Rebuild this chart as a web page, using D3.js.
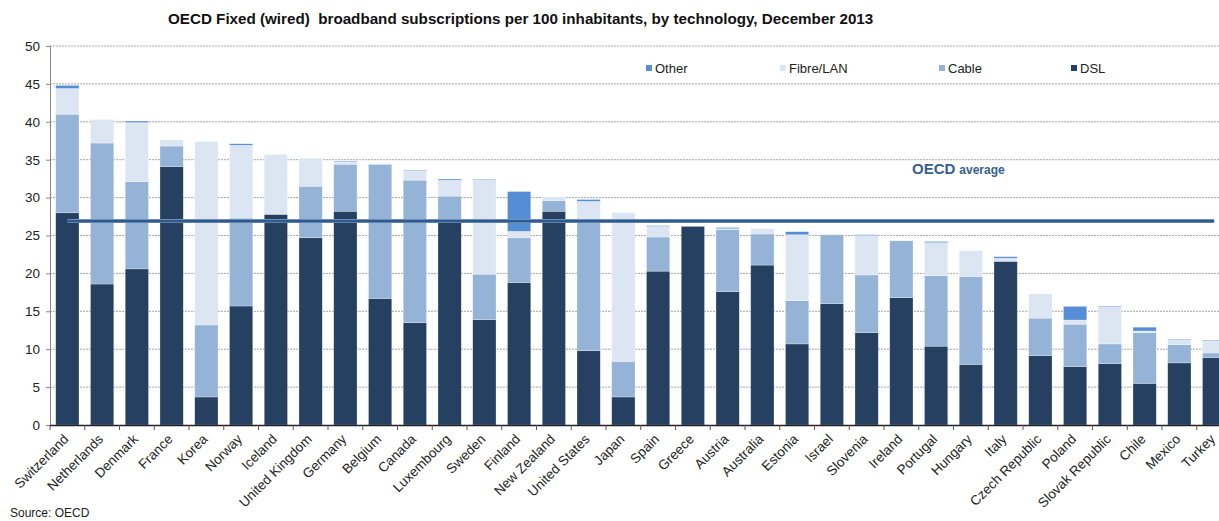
<!DOCTYPE html>
<html><head><meta charset="utf-8">
<script src="https://cdn.jsdelivr.net/npm/d3@7"></script>
<style>
html,body{margin:0;padding:0;background:#fff;overflow:hidden;}
text{font-family:"Liberation Sans",Arial,sans-serif;}
</style></head>
<body><svg id="c" width="1219" height="521"></svg>
<script>
const countries = ["Switzerland","Netherlands","Denmark","France","Korea","Norway","Iceland","United Kingdom","Germany","Belgium","Canada","Luxembourg","Sweden","Finland","New Zealand","United States","Japan","Spain","Greece","Austria","Australia","Estonia","Israel","Slovenia","Ireland","Portugal","Hungary","Italy","Czech Republic","Poland","Slovak Republic","Chile","Mexico","Turkey"];
const dsl   = [28.0,18.6,20.6,34.1,3.7,15.7,27.8,24.7,28.2,16.7,13.5,26.8,13.9,18.8,28.2,9.8,3.7,20.3,26.2,17.6,21.1,10.7,16.0,12.2,16.8,10.4,8.0,21.6,9.15,7.7,8.1,5.5,8.2,8.9];
const cable = [13.0,18.6,11.5,2.7,9.5,11.6,0,6.8,6.2,17.7,18.8,3.4,6.0,5.9,1.4,17.3,4.7,4.5,0,8.2,4.1,5.7,9.1,7.6,7.5,9.3,11.6,0,4.95,5.6,2.6,6.7,2.4,0.6];
const fibre = [3.4,3.1,7.8,0.8,24.2,9.6,7.9,3.7,0.3,0.1,1.2,2.1,12.4,0.85,0.5,2.4,19.6,1.4,0,0.1,0.7,8.7,0,5.2,0,4.35,3.4,0.4,3.2,0.55,4.9,0.2,0.6,1.6];
const other = [0.4,0,0.2,0,0,0.2,0,0,0.1,0,0.1,0.15,0.1,5.25,0,0.25,0,0.1,0,0.15,0,0.4,0,0.1,0,0.15,0,0.2,0,1.8,0.1,0.5,0.1,0.1];
const seriesNames = ["DSL","Cable","Fibre/LAN","Other"];
const legendOrder = ["Other","Fibre/LAN","Cable","DSL"];
const yTicks = [0,5,10,15,20,25,30,35,40,45,50];
const oecdAverage = 26.9;
const titleText = "OECD Fixed (wired)  broadband subscriptions per 100 inhabitants, by technology, December 2013";
const sourceText = "Source: OECD";

(function(){
const colors = {"DSL":"#254061","Cable":"#95b3d7","Fibre/LAN":"#dce6f2","Other":"#558ed5"};

const svg = d3.select("#c");
const pLeft = 50, pRight = 1231.5, pTop = 46, pBottom = 425;

const table = countries.map((c,i)=>({country:c,"DSL":dsl[i],"Cable":cable[i],"Fibre/LAN":fibre[i],"Other":other[i]}));
const stacked = d3.stack().keys(seriesNames)(table);

const x = d3.scaleBand().domain(countries).range([pLeft,pRight]).paddingInner(0.33).paddingOuter(0.165);
const y = d3.scaleLinear().domain([0,50]).range([pBottom,pTop]);

// gridlines
svg.append("g").selectAll("line").data(yTicks.filter(d=>d>0)).join("line")
  .attr("x1",pLeft).attr("x2",pRight).attr("y1",d=>y(d)).attr("y2",d=>y(d))
  .attr("stroke","#a6a6a6").attr("stroke-width",1).attr("stroke-dasharray","2,1");

// y axis
const yAxis = d3.axisLeft(y).tickValues(yTicks).tickSize(4).tickPadding(6);
const gy = svg.append("g").attr("transform",`translate(${pLeft},0)`).call(yAxis);
gy.select(".domain").attr("stroke","#868686");
gy.selectAll(".tick line").attr("stroke","#868686");
gy.selectAll(".tick text").attr("font-size","13.5px").attr("fill","#222").attr("font-family","Liberation Sans, Arial, sans-serif");

// bars
svg.append("g").selectAll("g").data(stacked).join("g")
  .attr("fill",d=>colors[d.key])
  .selectAll("rect").data(d=>d).join("rect")
  .attr("x",d=>x(d.data.country)).attr("width",x.bandwidth())
  .attr("y",d=>y(d[1])).attr("height",d=>Math.max(0,y(d[0])-y(d[1])))
  .attr("stroke","rgba(255,255,255,0.45)").attr("stroke-width",0.6);

// x axis baseline and ticks
const step = x.step();
const bounds = countries.map(c=>x(c)+x.bandwidth()+(step-x.bandwidth())/2);
svg.append("line").attr("x1",pLeft).attr("x2",pRight).attr("y1",pBottom+0.5).attr("y2",pBottom+0.5)
  .attr("stroke","#222").attr("stroke-width",1.3);
svg.append("g").selectAll("line").data([pLeft].concat(bounds)).join("line")
  .attr("x1",d=>d).attr("x2",d=>d).attr("y1",pBottom).attr("y2",pBottom+5)
  .attr("stroke","#555").attr("stroke-width",1);

// x labels
svg.append("g").selectAll("text").data(countries).join("text")
  .attr("transform",d=>`translate(${x(d)+x.bandwidth()/2+2},${pBottom+15}) rotate(-45)`)
  .attr("text-anchor","end").attr("font-size","13.5px").attr("fill","#222")
  .text(d=>d);

// OECD average line
const xc0 = x(countries[0])+x.bandwidth()/2, xc1 = x(countries[countries.length-1])+x.bandwidth()/2;
svg.append("line").attr("x1",xc0).attr("x2",xc1).attr("y1",y(oecdAverage)).attr("y2",y(oecdAverage))
  .attr("stroke","#6f8fb8").attr("stroke-width",4);
svg.append("line").attr("x1",xc0).attr("x2",xc1).attr("y1",y(oecdAverage)).attr("y2",y(oecdAverage))
  .attr("stroke","#2f5a8c").attr("stroke-width",2.4);
const lab = svg.append("text").attr("x",912).attr("y",174).attr("fill","#376092").attr("font-weight","bold");
lab.append("tspan").attr("font-size","15px").text("OECD");
lab.append("tspan").attr("font-size","12px").attr("dx",4).text("average");

// legend
const legX = {"Other":646,"Fibre/LAN":780,"Cable":939,"DSL":1071};
const lg = svg.append("g").selectAll("g").data(legendOrder).join("g")
  .attr("transform",d=>`translate(${legX[d]},65)`);
lg.append("rect").attr("width",6).attr("height",6).attr("fill",d=>colors[d]);
lg.append("text").attr("x",9).attr("y",7.5).attr("font-size","13px").attr("fill","#222").text(d=>d);

// title
svg.append("text").attr("x",168).attr("y",24).attr("font-size","15.2px").attr("font-weight","bold")
  .attr("fill","#111").style("white-space","pre").text(titleText);

// source
svg.append("text").attr("x",10).attr("y",517).attr("font-size","12px").attr("fill","#222").text(sourceText);
})();
</script></body></html>
